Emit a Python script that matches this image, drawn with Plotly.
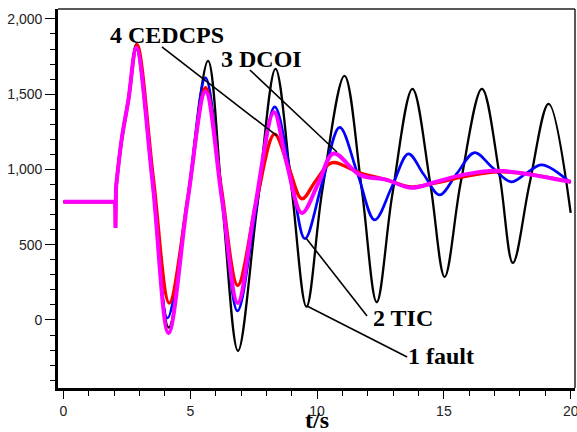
import plotly.graph_objects as go

# ---- data ----
pre_t = [0.0, 2.04, 2.05, 2.07]
pre_v = [785, 785, 612, 880]

fault_t = [2.07, 2.29, 2.56, 2.87, 3.52, 4.15, 4.92, 5.70, 6.27, 6.88, 7.62, 8.36, 8.99,
           9.58, 10.20, 11.08, 11.76, 12.35, 12.96, 13.76, 14.46, 15.03, 15.66, 16.50,
           17.20, 17.72, 18.38, 19.13, 20.0]
fault_v = [880, 1196, 1462, 1832, 900, -50, 830, 1722, 760, -205, 730, 1668, 880,
           88, 855, 1622, 870, 118, 826, 1535, 910, 286, 910, 1535,
           957, 379, 907, 1436, 711]

tic_t = [2.07, 2.29, 2.56, 2.87, 3.52, 4.10, 4.90, 5.60, 6.25, 6.86, 7.60, 8.33, 8.95,
         9.52, 10.20, 10.89, 11.60, 12.27, 12.95, 13.60, 14.20, 14.83, 15.50, 16.21,
         16.90, 17.65, 18.25, 18.86, 20.0]
tic_v = [880, 1196, 1462, 1800, 900, 13, 810, 1609, 830, 60, 740, 1416, 980,
         540, 910, 1280, 970, 665, 885, 1104, 968, 831, 970, 1112,
         1015, 918, 975, 1031, 911]

cedcps_t = [2.07, 2.29, 2.56, 2.90, 3.55, 4.17, 4.92, 5.60, 6.22, 6.87, 7.62, 8.32, 8.87,
            9.40, 9.95, 10.57, 11.68, 12.74, 13.73, 14.70, 15.74, 17.08, 18.00, 20.0]
cedcps_v = [880, 1196, 1462, 1828, 930, 113, 830, 1543, 880, 230, 800, 1235, 1019,
            805, 925, 1044, 977, 931, 884, 911, 951, 984, 977, 918]

dcoi_t = [2.07, 2.29, 2.56, 2.87, 3.52, 4.14, 4.90, 5.60, 6.25, 6.87, 7.55, 8.30, 8.80,
          9.40, 10.05, 10.65, 11.68, 12.74, 13.70, 14.70, 15.74, 17.08, 18.00, 20.0]
dcoi_v = [880, 1196, 1462, 1808, 900, -86, 800, 1516, 800, 113, 750, 1380, 1041,
          711, 908, 1106, 964, 931, 878, 918, 964, 991, 977, 918]

x_ticks = [0, 5, 10, 15, 20]
y_ticks = [0, 500, 1000, 1500, 2000]
y_tick_text = ["0", "500", "1,000", "1,500", "2,000"]

series = [
    ("1 fault", fault_t, fault_v, "#000000", 2.3),
    ("2 TIC", tic_t, tic_v, "#0000ff", 2.7),
    ("4 CEDCPS", cedcps_t, cedcps_v, "#ff0000", 3.4),
    ("3 DCOI", dcoi_t, dcoi_v, "#ff00ff", 4.0),
]

fig = go.Figure()
for name, t, v, col, w in series:
    fig.add_trace(go.Scatter(x=pre_t, y=pre_v, mode="lines", line=dict(color=col, width=w),
                             showlegend=False, hoverinfo="skip"))
    fig.add_trace(go.Scatter(x=t, y=v, mode="lines", name=name,
                             line=dict(color=col, width=w, shape="spline", smoothing=1),
                             showlegend=False))

# callout lines (label -> curve)
callouts = [
    (3.88, 1814, 8.42, 1223),
    (7.35, 1661, 10.78, 1116),
    (9.56, 545, 11.97, 27),
    (9.60, 93, 13.55, -246),
]
shapes = []
for x0, y0, x1, y1 in callouts:
    shapes.append(dict(type="line", xref="x", yref="y", x0=x0, y0=y0, x1=x1, y1=y1,
                       line=dict(color="#000000", width=1.6)))
# thin top and right border
shapes.append(dict(type="line", xref="paper", yref="paper", x0=0, x1=1, y0=1, y1=1,
                   line=dict(color="#222222", width=1.5)))
shapes.append(dict(type="line", xref="paper", yref="paper", x0=1, x1=1, y0=0, y1=1,
                   line=dict(color="#222222", width=1.5)))

label_font = dict(family="Liberation Serif", size=24, color="#000000")
labels = [
    ("<b>4 CEDCPS</b>", 4.08, 1894),
    ("<b>3 DCOI</b>", 7.82, 1734),
    ("<b>2 TIC</b>", 13.38, 13),
    ("<b>1 fault</b>", 14.89, -239),
]
annotations = [dict(text=txt, x=x, y=y, xref="x", yref="y", showarrow=False,
                    font=label_font, xanchor="center", yanchor="middle")
               for txt, x, y in labels]
annotations.append(dict(text="<b>t/s</b>", x=10, y=-0.046, xref="x", yref="paper",
                        showarrow=False, xanchor="center", yanchor="top",
                        font=dict(family="Liberation Serif", size=24, color="#000000")))

tick_font = dict(family="Liberation Sans", size=14, color="#222222")

fig.update_layout(
    width=577, height=432,
    margin=dict(l=58, r=2, t=9, b=44),
    paper_bgcolor="white", plot_bgcolor="white",
    shapes=shapes, annotations=annotations,
    xaxis=dict(range=[-0.217, 20.17], tickvals=x_ticks, ticktext=[str(x) for x in x_ticks],
               showgrid=False, zeroline=False, showline=True, linecolor="#000000", linewidth=2.6,
               ticks="outside", ticklen=8, tickwidth=1.2, tickcolor="#000000",
               minor=dict(dtick=1, ticks="outside", ticklen=5, tickwidth=1.2, tickcolor="#000000",
                          showgrid=False),
               tickfont=tick_font, automargin=False, ticklabeloverflow="allow"),
    yaxis=dict(range=[-452, 2066], tickvals=y_ticks, ticktext=y_tick_text,
               showgrid=False, zeroline=False, showline=True, linecolor="#000000", linewidth=2.6,
               ticks="outside", ticklen=10, tickwidth=1.2, tickcolor="#000000",
               minor=dict(dtick=100, tick0=0, ticks="outside", ticklen=5, tickwidth=1.2,
                          tickcolor="#000000", showgrid=False),
               tickfont=tick_font, automargin=False),
)

fig.write_html("out.html", config={"displayModeBar": False},
               post_script="document.body.style.margin='0';document.body.style.overflow='hidden';")
